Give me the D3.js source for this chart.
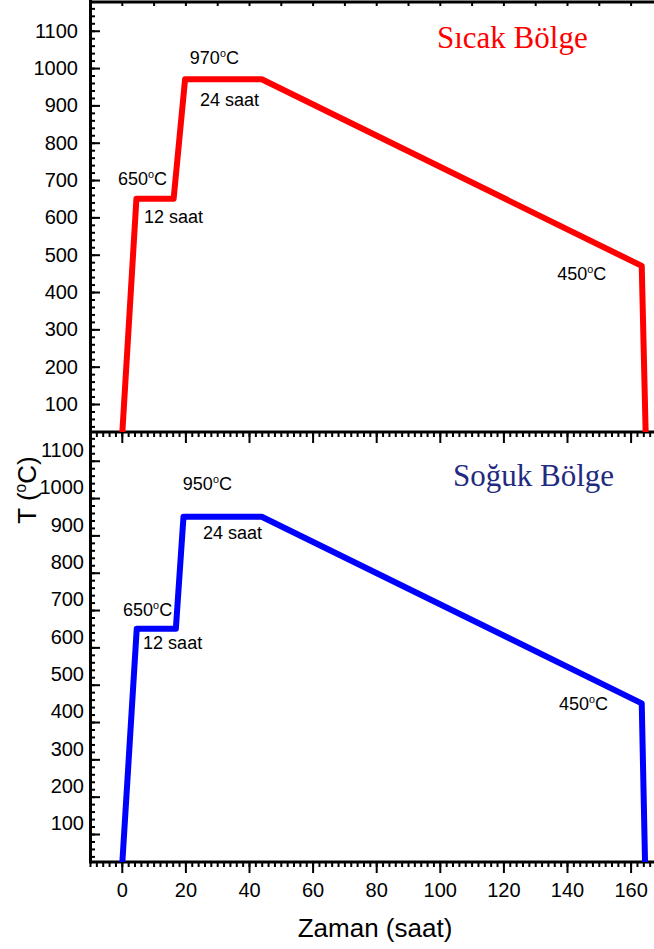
<!DOCTYPE html>
<html><head><meta charset="utf-8">
<script src="https://cdn.jsdelivr.net/npm/d3@7"></script>
<style>
html,body{margin:0;padding:0;background:#fff;}
svg{display:block;}
</style></head>
<body>
<script>
// ---- data ----
const timeRed  = [0, 4.6, 16.3, 19.9, 44, 163.5, 164.8];
const tempRed  = [0, 650, 650, 970, 970, 470, 0];
const timeBlue = [0, 4.7, 17, 19.4, 44, 163.5, 164.6];
const tempBlue = [0, 650, 650, 950, 950, 450, 0];
const xTickValues = [0, 20, 40, 60, 80, 100, 120, 140, 160];
const yTickValues = [100, 200, 300, 400, 500, 600, 700, 800, 900, 1000, 1100];
const notesTopText = ["970°C", "24 saat", "650°C", "12 saat", "450°C"];
const notesTopT    = [21.4, 24.6, -1.2, 7.0, 136.9];
const notesTopV    = [1011, 898, 687, 585, 432];
const notesBotText = ["950°C", "24 saat", "650°C", "12 saat", "450°C"];
const notesBotT    = [19.2, 25.5, 0.4, 6.7, 137.5];
const notesBotV    = [1022, 890, 684, 596, 432];
const titleTop = "Sıcak Bölge";
const titleBot = "Soğuk Bölge";
const xLabel = "Zaman (saat)";

// ---- layout ----
const W = 654, H = 949;
const left = 90, xRight = 662.4;
const topY0 = 2, topY1 = 432, botY0 = 432, botY1 = 862;
const sans = "'Liberation Sans', Arial, sans-serif";
const serif = "'Liberation Serif', 'Times New Roman', serif";
const fmt = d3.format("d");

const svg = d3.select("body").append("svg").attr("width", W).attr("height", H);

const x = d3.scaleLinear().domain([-10, 170]).range([left, xRight]);
const yTop = d3.scaleLinear().domain([25, 1177]).range([topY1, topY0]);
const yBot = d3.scaleLinear().domain([25, 1177]).range([botY1, botY0]);

const defs = svg.append("defs");
defs.append("clipPath").attr("id", "clipTop").append("rect")
  .attr("x", left).attr("y", topY0).attr("width", W - left).attr("height", topY1 - topY0);
defs.append("clipPath").attr("id", "clipBot").append("rect")
  .attr("x", left).attr("y", botY0).attr("width", W - left).attr("height", botY1 - botY0);

function styleAxis(g) {
  g.select(".domain").remove();
  g.selectAll(".tick line").attr("stroke", "#000").attr("stroke-width", 2);
  g.selectAll(".tick text").attr("fill", "#000").attr("font-family", sans).attr("font-size", 20);
}

const minorX = d3.range(-10, 171, 2);
const minorY = d3.range(40, 1177, 20);

function panel(yScale, y0, y1, labelShift, pad) {
  svg.append("g").attr("transform", `translate(${left},0)`)
    .call(d3.axisLeft(yScale).tickValues(minorY).tickSize(-5).tickFormat(""))
    .call(styleAxis);
  const gy = svg.append("g").attr("transform", `translate(${left},0)`)
    .call(d3.axisLeft(yScale).tickValues(yTickValues).tickSize(-10).tickPadding(pad).tickFormat(fmt))
    .call(styleAxis);
  gy.selectAll(".tick text").attr("y", labelShift);
  svg.append("g").attr("transform", `translate(0,${y1})`)
    .call(d3.axisBottom(x).tickValues(minorX).tickSize(5).tickFormat(""))
    .call(styleAxis);
}

panel(yTop, topY0, topY1, 0, 12);
panel(yBot, botY0, botY1, -10.5, 6);

svg.append("g").attr("transform", `translate(0,${topY1})`)
  .call(d3.axisBottom(x).tickValues(xTickValues).tickSize(11).tickFormat(""))
  .call(styleAxis);
svg.append("g").attr("transform", `translate(0,${botY1})`)
  .call(d3.axisBottom(x).tickValues(xTickValues).tickSize(11).tickPadding(10).tickFormat(fmt))
  .call(styleAxis);
svg.append("g").attr("transform", `translate(0,${topY0})`)
  .call(d3.axisTop(x).tickValues(d3.range(-10, 171, 10)).tickSize(-4).tickFormat(""))
  .call(styleAxis);

const axisLines = svg.append("g").attr("stroke", "#000").attr("stroke-width", 3);
axisLines.append("line").attr("x1", left + 0.5).attr("x2", left + 0.5).attr("y1", 0).attr("y2", botY1 + 1.5);
axisLines.append("line").attr("x1", left).attr("x2", W).attr("y1", topY0).attr("y2", topY0);
axisLines.append("line").attr("x1", left).attr("x2", W).attr("y1", topY1).attr("y2", topY1);
axisLines.append("line").attr("x1", left).attr("x2", W).attr("y1", botY1).attr("y2", botY1);

function drawLine(times, temps, yScale, color, clip) {
  const pts = times.map((t, i) => [t, temps[i]]);
  svg.append("path")
    .attr("clip-path", `url(#${clip})`)
    .attr("d", d3.line().x(d => x(d[0])).y(d => yScale(d[1]))(pts))
    .attr("fill", "none").attr("stroke", color).attr("stroke-width", 6)
    .attr("stroke-linejoin", "round");
}
drawLine(timeRed, tempRed, yTop, "#ff0000", "clipTop");
drawLine(timeBlue, tempBlue, yBot, "#0000ff", "clipBot");

function degText(sel, str, size) {
  const parts = str.split("°");
  sel.append("tspan").text(parts[0]);
  if (parts.length > 1) {
    sel.append("tspan").attr("font-size", size * 0.6).attr("dy", -size * 0.4).text("o");
    sel.append("tspan").attr("dy", size * 0.4).text(parts[1]);
  }
}

function notes(texts, ts, vs, yScale) {
  texts.forEach((s, i) => {
    const t = svg.append("text")
      .attr("x", x(ts[i])).attr("y", yScale(vs[i]))
      .attr("font-family", sans).attr("font-size", 18).attr("fill", "#000");
    degText(t, s, 18);
  });
}
notes(notesTopText, notesTopT, notesTopV, yTop);
notes(notesBotText, notesBotT, notesBotV, yBot);

svg.append("text").attr("x", 437).attr("y", 48)
  .attr("font-family", serif).attr("font-size", 31).attr("fill", "#ff0000").text(titleTop);
svg.append("text").attr("x", 453).attr("y", 486)
  .attr("font-family", serif).attr("font-size", 31).attr("fill", "#1f2a80").text(titleBot);

svg.append("text").attr("x", 375).attr("y", 937).attr("text-anchor", "middle")
  .attr("font-family", sans).attr("font-size", 26).attr("fill", "#000").text(xLabel);
const yl = svg.append("text").attr("transform", "translate(36,490) rotate(-90)")
  .attr("text-anchor", "middle").attr("font-family", sans).attr("font-size", 26).attr("fill", "#000");
degText(yl, "T (°C)", 26);
</script>
</body></html>
